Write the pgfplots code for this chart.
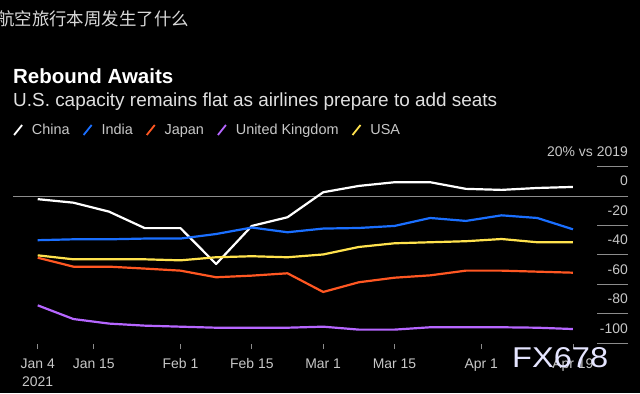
\documentclass[border=0pt]{standalone}
\usepackage{pgfplots}
\pgfplotsset{compat=1.18}
\usepackage{fontspec}
\setmainfont{Liberation Sans}
\newfontfamily\cjk{Noto Sans CJK SC}
\definecolor{cChina}{HTML}{FFFFFF}
\definecolor{cIndia}{HTML}{1A6FFF}
\definecolor{cJapan}{HTML}{FF5722}
\definecolor{cUK}{HTML}{B666FF}
\definecolor{cUSA}{HTML}{FFE24D}
\definecolor{txt}{HTML}{C8C8C8}
\definecolor{tickgray}{HTML}{8C8C8C}
\begin{document}
\begin{tikzpicture}[x=1bp,y=1bp]
\fill[black] (0,0) rectangle (640,393);
\useasboundingbox (0,0) rectangle (640,393);
\node[anchor=base west, inner sep=0pt, text=white!85!black, font=\cjk\fontsize{17.5}{20}\selectfont] at (-3,368) {航空旅行本周发生了什么};
\node[anchor=base west, inner sep=0pt, text=white] at (13,310) {\resizebox{160bp}{!}{\bfseries Rebound Awaits}};
\node[anchor=base west, inner sep=0pt, text=white!88!black] at (13,287) {\resizebox{484bp}{!}{U.S. capacity remains flat as airlines prepare to add seats}};
\begin{axis}[
  at={(13bp,50bp)}, anchor=south west, scale only axis,
  width=615bp, height=176.5bp,
  xmin=-4.85, xmax=115.8, ymin=-100, ymax=20,
  axis line style={draw=none},
  xtick={0,11,28,42,56,70,87,105},
  xticklabels={{Jan 4\\2021},Jan 15,Feb 1,Feb 15,Mar 1,Mar 15,Apr 1,Apr 19},
  xticklabel style={align=center, text=txt, font=\fontsize{14}{18}\selectfont, yshift=-12bp},
  ytick={-100,-80,-60,-40,-20,0,20},
  yticklabels={-100,-80,-60,-40,-20,0,{20\% vs 2019}},
  ytick pos=right, yticklabel pos=right,
  xtick pos=bottom,
  tick align=inside,
  major tick length=31bp,
  xtick style={draw=tickgray, line width=0.8bp, /pgfplots/major tick length=5bp, yshift=-6bp},
  ytick style={draw=tickgray, line width=0.8bp},
  yticklabel style={anchor=base east, inner sep=0pt, yshift=10bp, text=txt, font=\fontsize{14}{16}\selectfont},
  extra y ticks={0}, extra y tick labels={},
  extra y tick style={grid=major, major grid style={draw=tickgray, line width=0.8bp}},
  legend columns=-1,
  legend cell align=left,
  legend image code/.code={\draw[#1, line width=1.8bp] (0bp,-5bp) -- (8bp,5bp);},
  legend style={at={(axis description cs:0,1.2068)}, anchor=west, draw=none, fill=none, inner sep=0pt,
    nodes={inner sep=0pt, text=txt, font=\fontsize{14.5}{16}\selectfont},
    /tikz/every odd column/.append style={column sep=9bp},
    /tikz/every even column/.append style={column sep=13bp}},
  every axis plot/.append style={line width=2.2bp, line join=round},
]
\addplot[cChina] coordinates {(0,-2.2)(7,-4.6)(14,-10.7)(21,-21.9)(28,-21.9)(35,-46.3)(42,-20.4)(49,-14.5)(56,2.5)(63,6.8)(70,9.3)(77,9.3)(84,4.8)(91,4.1)(98,5.4)(105,6.1)};
\addlegendentry{China}
\addplot[cIndia] coordinates {(0,-30.1)(7,-29.5)(14,-29.5)(21,-29)(28,-29)(35,-25.9)(42,-21.5)(49,-24.7)(56,-22.2)(63,-21.8)(70,-20.4)(77,-15)(84,-17)(91,-13.2)(98,-15)(105,-22.7)};
\addlegendentry{India}
\addplot[cJapan] coordinates {(0,-42)(7,-48.1)(14,-48.1)(21,-49.4)(28,-50.8)(35,-55.3)(42,-54.2)(49,-52.6)(56,-65.3)(63,-58.7)(70,-55.6)(77,-54)(84,-50.8)(91,-50.8)(98,-51.5)(105,-52.2)};
\addlegendentry{Japan}
\addplot[cUK] coordinates {(0,-74.4)(7,-83.7)(14,-86.8)(21,-88.2)(28,-88.9)(35,-89.6)(42,-89.6)(49,-89.6)(56,-88.9)(63,-90.9)(70,-90.9)(77,-89.3)(84,-89.3)(91,-89.3)(98,-89.6)(105,-90.5)};
\addlegendentry{United Kingdom}
\addplot[cUSA] coordinates {(0,-40.4)(7,-43.1)(14,-43.1)(21,-43.1)(28,-43.8)(35,-41.7)(42,-41)(49,-41.7)(56,-39.8)(63,-34.7)(70,-32.2)(77,-31.5)(84,-30.8)(91,-29.3)(98,-31.5)(105,-31.5)};
\addlegendentry{USA}
\end{axis}
\node[anchor=base west, inner sep=0pt, text=white!90!blue] at (512,26) {\resizebox{96bp}{20bp}{FX678}};
\end{tikzpicture}
\end{document}
